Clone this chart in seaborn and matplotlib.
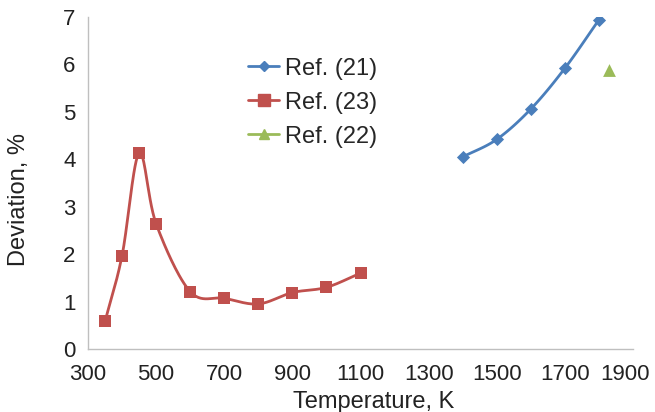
import numpy as np
import pandas as pd
import matplotlib
matplotlib.use("Agg")
import matplotlib.pyplot as plt
import matplotlib.transforms as mtransforms
from matplotlib.lines import Line2D
import seaborn as sns

# ---- data ----
ref21_T = [1400, 1500, 1600, 1700, 1800]
ref21_dev = [4.05, 4.42, 5.06, 5.92, 6.94]

ref23_T = [350, 400, 450, 500, 600, 700, 800, 900, 1000, 1100]
ref23_dev = [0.58, 1.97, 4.13, 2.64, 1.21, 1.07, 0.95, 1.19, 1.30, 1.60]

ref22_T = [1830]
ref22_dev = [5.88]

x_ticks = [300, 500, 700, 900, 1100, 1300, 1500, 1700, 1900]
y_ticks = [0, 1, 2, 3, 4, 5, 6, 7]

BLUE = "#4A7EBB"
RED = "#C0504D"
GREEN = "#9BBB59"
AXC = "#BFBFBF"
TXT = "#222222"


def smooth(xs, ys, n=30):
    """Catmull-Rom style smoothing used for rendering the line through points."""
    xs = np.asarray(xs, float)
    ys = np.asarray(ys, float)
    P = np.column_stack([xs, ys])
    P = np.vstack([P[0] - (P[1] - P[0]), P, P[-1] + (P[-1] - P[-2])])
    out = []
    for i in range(1, len(P) - 2):
        p0, p1, p2, p3 = P[i - 1], P[i], P[i + 1], P[i + 2]
        c1 = p1 + (p2 - p0) / 6.0
        c2 = p2 - (p3 - p1) / 6.0
        t = np.linspace(0, 1, n)[:, None]
        seg = ((1 - t) ** 3) * p1 + 3 * ((1 - t) ** 2) * t * c1 + 3 * (1 - t) * t ** 2 * c2 + t ** 3 * p2
        out.append(seg if i == 1 else seg[1:])
    S = np.vstack(out)
    return S[:, 0], S[:, 1]


sns.set_style("white")
plt.rcParams["font.family"] = ["Liberation Sans", "DejaVu Sans"]

fig = plt.figure(figsize=(6.55, 4.12), dpi=100)
ax = fig.add_axes([88 / 655, (412 - 349) / 412, (633 - 88) / 655, (349 - 17) / 412])

sx, sy = smooth(ref21_T, ref21_dev)
sns.lineplot(x=sx, y=sy, ax=ax, color=BLUE, linewidth=2, sort=False, estimator=None)
sx, sy = smooth(ref23_T, ref23_dev)
sns.lineplot(x=sx, y=sy, ax=ax, color=RED, linewidth=2, sort=False, estimator=None)

sns.scatterplot(x=ref21_T, y=ref21_dev, ax=ax, marker="D", s=45, color=BLUE, edgecolor=BLUE, linewidth=0, zorder=3)
sns.scatterplot(x=ref23_T, y=ref23_dev, ax=ax, marker="s", s=85, color=RED, edgecolor=RED, linewidth=0, zorder=3)
sns.scatterplot(x=ref22_T, y=ref22_dev, ax=ax, marker="^", s=85, color=GREEN, edgecolor=GREEN, linewidth=0, zorder=3)

ax.set_xlim(300, 1900)
ax.set_ylim(0, 7)
ax.set_xticks(x_ticks)
ax.set_yticks(y_ticks)
ax.tick_params(axis="both", labelsize=16, colors=TXT, length=5, width=1, color=AXC)
ax.tick_params(axis="x", direction="out", pad=6)
ax.tick_params(axis="y", direction="out", pad=4)
for s in ["top", "right"]:
    ax.spines[s].set_visible(False)
for s in ["left", "bottom"]:
    ax.spines[s].set_color(AXC)
    ax.spines[s].set_linewidth(1)

# keep last x tick label inside the figure (as in the reference)
last = ax.get_xticklabels()[-1]
last.set_transform(last.get_transform() + mtransforms.ScaledTranslation(-8 / 100, 0, fig.dpi_scale_trans))

ax.set_xlabel("Temperature, K", fontsize=17, color=TXT)
ax.xaxis.set_label_coords(0.5 + 13 / 545, -0.127)
ax.set_ylabel("Deviation, %", fontsize=17, color=TXT)
ax.yaxis.set_label_coords(-0.106, 0.449)

handles = [
    Line2D([], [], color=BLUE, marker="D", markersize=5, linewidth=2),
    Line2D([], [], color=RED, marker="s", markersize=8, linewidth=2),
    Line2D([], [], color=GREEN, marker="^", markersize=7, linewidth=2),
]
ax.legend(handles, ["Ref. (21)", "Ref. (23)", "Ref. (22)"], loc="upper left",
          bbox_to_anchor=(0.277, 0.906), frameon=False, fontsize=17, handlelength=1.3,
          handletextpad=0.25, labelspacing=0.51, borderaxespad=0)

fig.savefig("out.png", dpi=100)
